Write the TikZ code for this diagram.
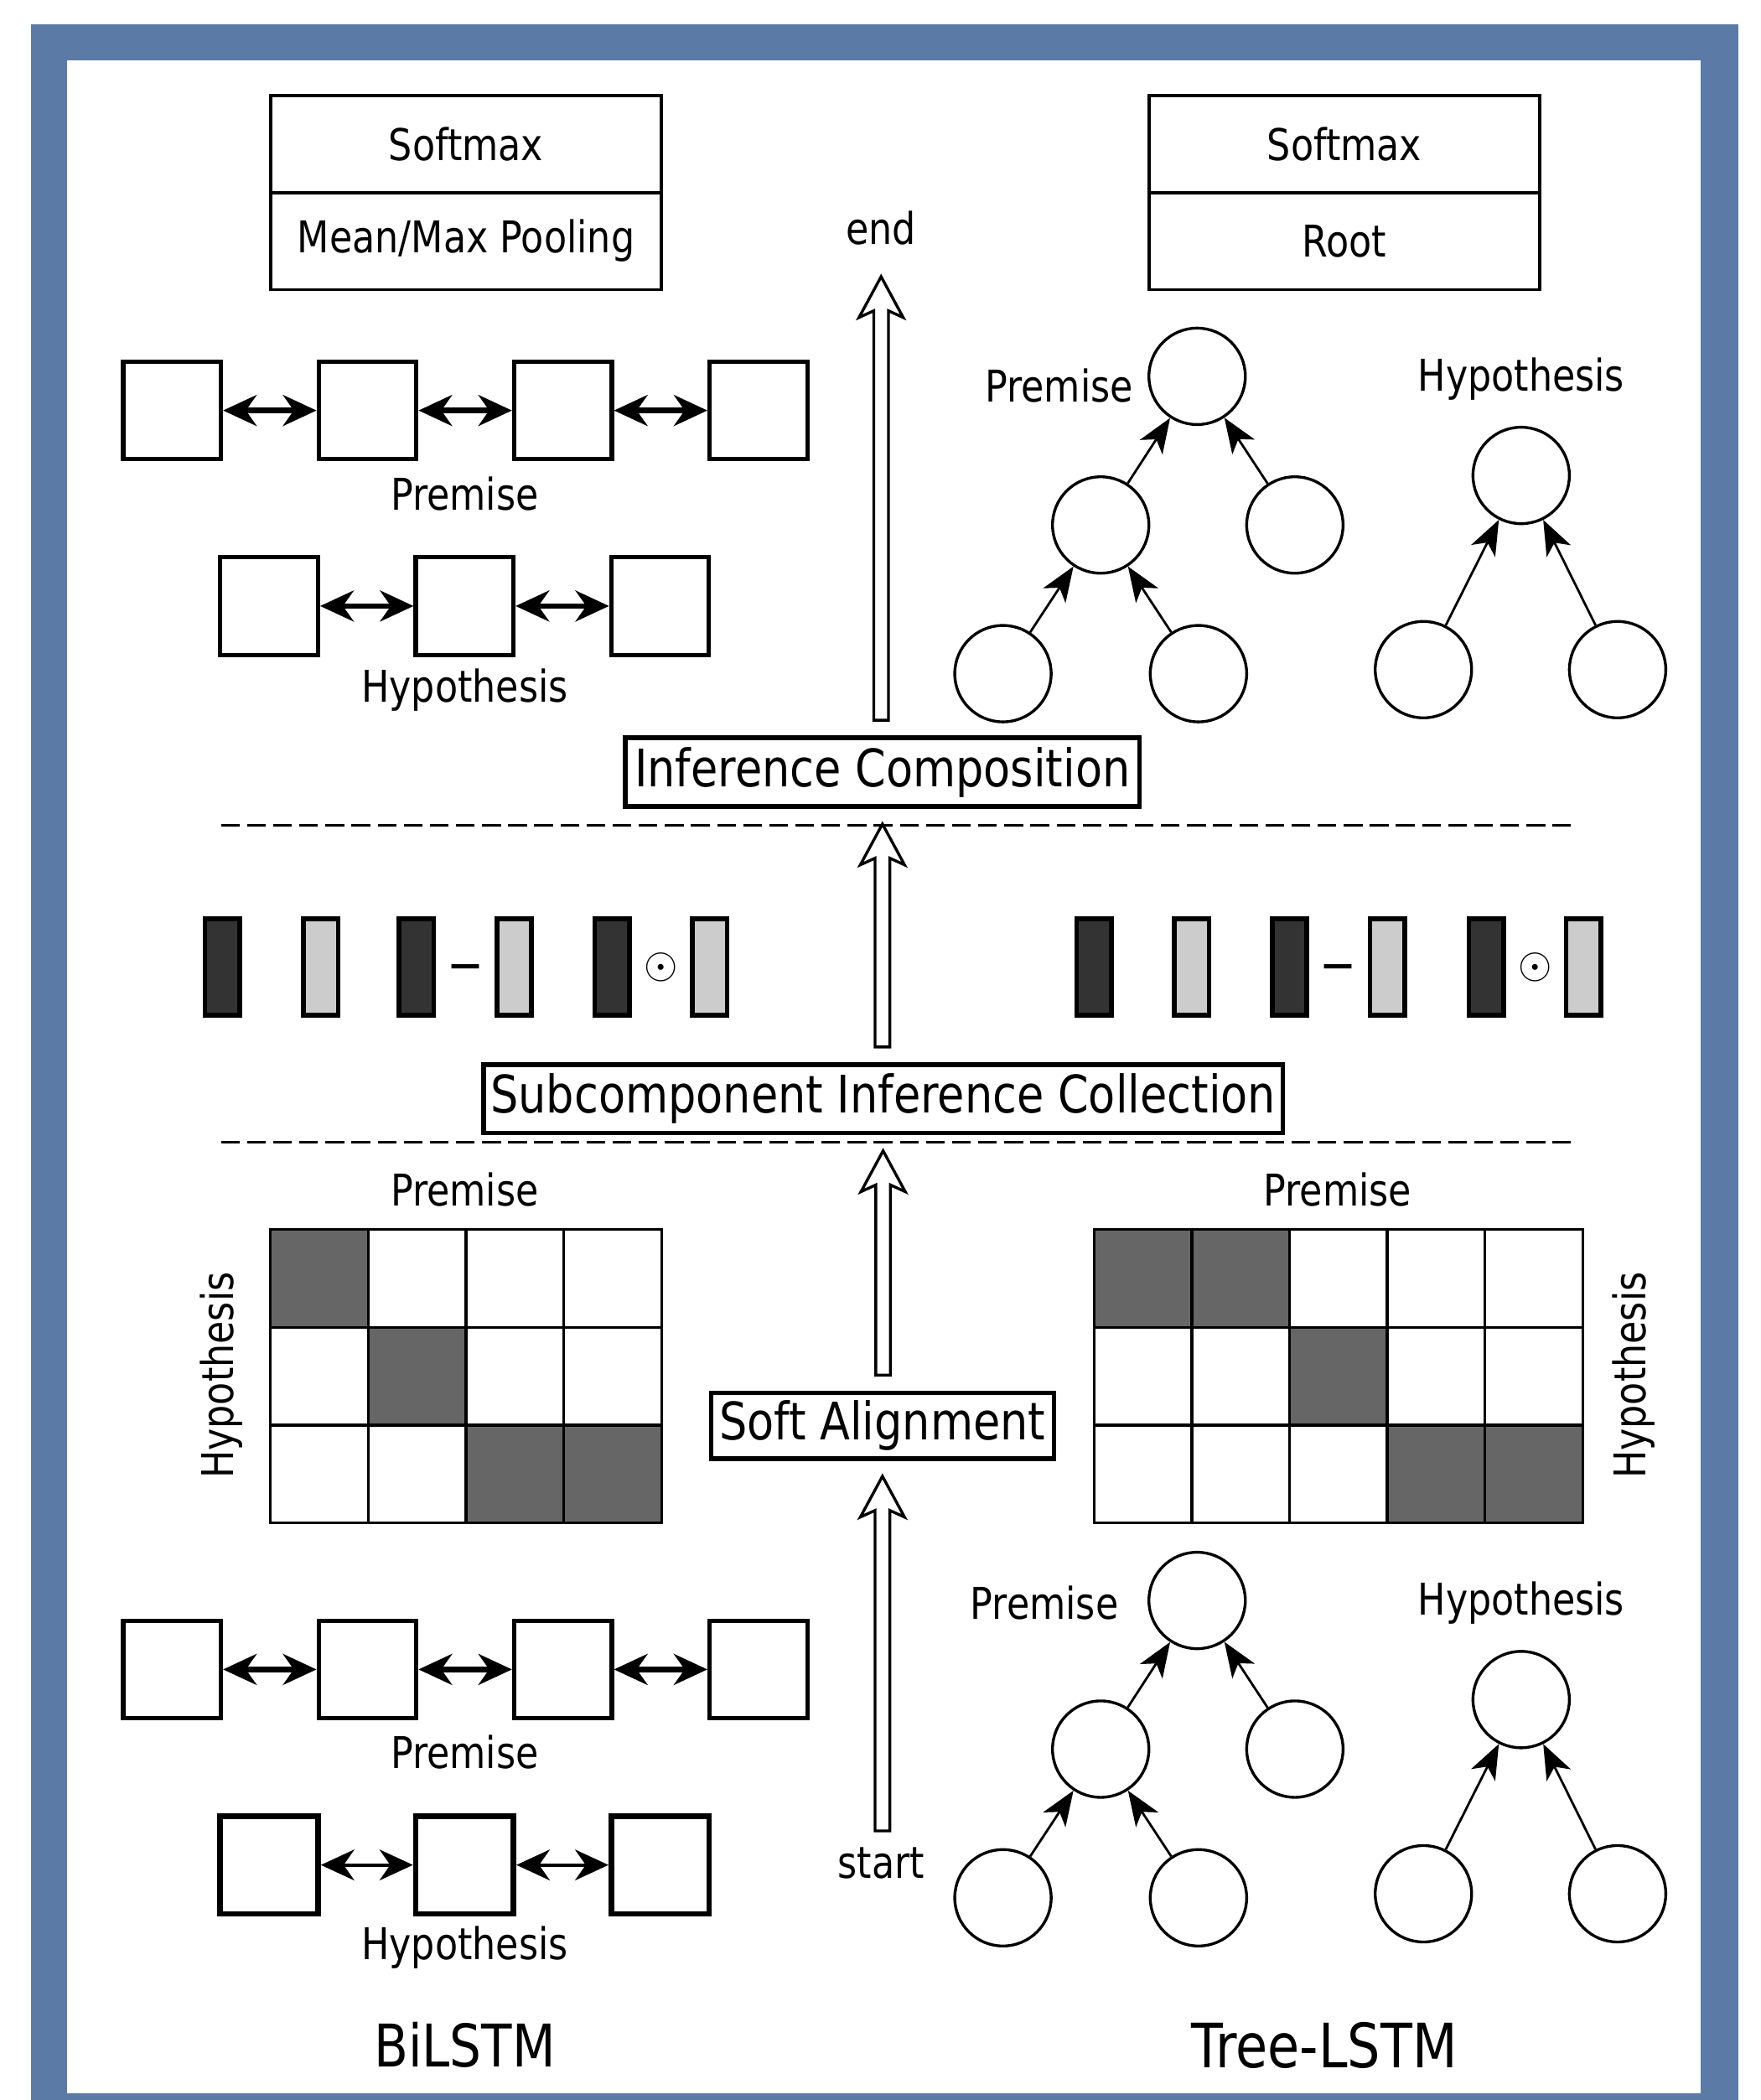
\documentclass[tikz,border=0pt]{standalone}
\usepackage{fontspec}
\setmainfont[FakeStretch=0.85]{DejaVu Sans}
\usetikzlibrary{arrows.meta,calc,positioning}

\definecolor{framecol}{RGB}{91,123,166}
\definecolor{darkbar}{HTML}{333333}
\definecolor{lightbar}{HTML}{CCCCCC}
\definecolor{cellgray}{HTML}{666666}

\tikzset{
    lbl/.style={font=\fontsize{9.3}{11}\selectfont},
    ttl/.style={draw,line width=1pt,font=\fontsize{11}{13}\selectfont,inner xsep=0.3mm,inner ysep=0.3mm,minimum height=5.1mm},
    headbox/.style={draw,line width=0.7pt,minimum width=2.92cm,minimum height=7.25mm,lbl},
    cell/.style={draw,line width=0.9pt,minimum size=7.3mm,inner sep=0},
    biarrow/.style={{Stealth[length=2.5mm,width=2.3mm,inset=0.8mm]}-{Stealth[length=2.5mm,width=2.3mm,inset=0.8mm]},line width=1.2pt},
    circ/.style={circle,draw,line width=0.6pt,minimum size=7.2mm,inner sep=0},
    treearrow/.style={-{Stealth[length=2.6mm,width=2mm,inset=0.7mm]},line width=0.5pt},
    bar/.style={draw,line width=1pt,minimum width=2.6mm,minimum height=7.2mm,inner sep=0},
    mcell/.style={draw,line width=0.6pt,minimum size=7.3mm,inner sep=0},
    fatline/.style={draw,fill=white,line width=0.6pt,line join=miter},
    sep/.style={line width=0.5pt,dash pattern=on 1.4mm off 0.55mm},
    opsign/.style={font=\fontsize{11}{13}\selectfont,yshift=-0.5mm}
}

% hollow upward arrow between two anchors
\newcommand{\fatarrow}[2]{%
    \draw[fatline] let \p1=(#1), \p2=(#2) in
        (\x2-0.55mm,\y1+1.15mm) -- (\x2-0.55mm,\y2-3.7mm) -- (\x2-1.65mm,\y2-4.2mm)
        -- (\x2,\y2-1.15mm) -- (\x2+1.65mm,\y2-4.2mm) -- (\x2+0.55mm,\y2-3.7mm)
        -- (\x2+0.55mm,\y1+1.15mm) -- cycle;}

\begin{document}
\begin{tikzpicture}[x=1cm,y=-1cm]
    \useasboundingbox (0,0) rectangle (13.15,15.68);
    \fill[framecol] (0.23,0.18) rectangle (12.98,15.68);
    \fill[white] (0.50,0.45) rectangle (12.70,15.63);

    % top classifiers
    \node[headbox] (softL) at (3.48,1.075) {Softmax};
    \node[headbox] (poolL) at (3.48,1.80) {Mean/Max Pooling};
    \node[headbox] (softR) at (10.04,1.075) {Softmax};
    \node[headbox] (rootR) at (10.04,1.80) {Root};

    % middle column
    \node[lbl] (endnode) at (6.58,1.70) {end};
    \node[ttl,minimum width=3.84cm] (infer) at (6.59,5.765) {Inference Composition};
    \node[ttl,minimum width=5.97cm] (subc) at (6.595,8.205) {Subcomponent Inference Collection};
    \node[ttl,minimum width=2.56cm,minimum height=4.9mm] (align) at (6.59,10.645) {Soft Alignment};
    \node[lbl,inner ysep=0pt] (startnode) at (6.58,13.91) {start};

    \draw[sep] (1.65,6.16) -- (11.73,6.16);
    \draw[sep] (1.65,8.53) -- (11.73,8.53);

    \fatarrow{infer.north}{endnode.south}
    \fatarrow{subc.north}{infer.south}
    \fatarrow{align.north}{subc.south}
    \fatarrow{startnode.north}{align.south}

    % BiLSTM, upper
    \node[cell] (pT1) at (1.285,3.065) {};
    \node[cell,right=6.98mm of pT1] (pT2) {};
    \node[cell,right=6.98mm of pT2] (pT3) {};
    \node[cell,right=6.98mm of pT3] (pT4) {};
    \draw[biarrow] (pT1) -- (pT2);
    \draw[biarrow] (pT2) -- (pT3);
    \draw[biarrow] (pT3) -- (pT4);
    \node[lbl] (pTlbl) at (3.47,3.69) {Premise};
    \node[cell] (hT1) at (2.01,4.525) {};
    \node[cell,right=6.98mm of hT1] (hT2) {};
    \node[cell,right=6.98mm of hT2] (hT3) {};
    \draw[biarrow] (hT1) -- (hT2);
    \draw[biarrow] (hT2) -- (hT3);
    \node[lbl] (hTlbl) at (3.47,5.15) {Hypothesis};

    % Tree-LSTM, upper
    \node[circ] (tpR) at (8.94,2.81) {};
    \node[circ] (tpM) at (8.22,3.92) {};
    \node[circ] (tpC) at (9.67,3.92) {};
    \node[circ] (tpA) at (7.49,5.03) {};
    \node[circ] (tpB) at (8.95,5.03) {};
    \draw[treearrow] (tpM) -- (tpR);
    \draw[treearrow] (tpC) -- (tpR);
    \draw[treearrow] (tpA) -- (tpM);
    \draw[treearrow] (tpB) -- (tpM);
    \node[lbl] (tpLbl) at (7.91,2.88) {Premise};
    \node[circ] (thR) at (11.36,3.55) {};
    \node[circ] (thA) at (10.63,5.00) {};
    \node[circ] (thB) at (12.08,5.00) {};
    \draw[treearrow] (thA) -- (thR);
    \draw[treearrow] (thB) -- (thR);
    \node[lbl] (thLbl) at (11.36,2.83) {Hypothesis};

    % local inference vectors
    \foreach \x/\n in {1.66/a,3.11/b,4.57/c,8.17/d,9.63/e,11.10/f}
        \node[bar,fill=darkbar] (dk\n) at (\x,7.22) {};
    \foreach \x/\n in {2.395/a,3.84/b,5.30/c,8.90/d,10.36/e,11.825/f}
        \node[bar,fill=lightbar] (lt\n) at (\x,7.22) {};
    \node[opsign] (minL) at ($(dkb)!0.5!(ltb)$) {−};
    \node[lbl] (dotL) at ($(dkc)!0.5!(ltc)$) {$\odot$};
    \node[opsign] (minR) at ($(dke)!0.5!(lte)$) {−};
    \node[lbl] (dotR) at ($(dkf)!0.5!(ltf)$) {$\odot$};

    % alignment matrices
    \foreach \r in {0,1,2}
        \foreach \c in {0,...,3}
            \node[mcell] (mL-\r-\c) at (2.385+0.73*\c,9.545+0.73*\r) {};
    \foreach \r/\c in {0/0,1/1,2/2,2/3}
        \node[mcell,fill=cellgray] at (mL-\r-\c) {};
    \foreach \r in {0,1,2}
        \foreach \c in {0,...,4}
            \node[mcell] (mR-\r-\c) at (8.535+0.73*\c,9.545+0.73*\r) {};
    \foreach \r/\c in {0/0,0/1,1/2,2/3,2/4}
        \node[mcell,fill=cellgray] at (mR-\r-\c) {};
    \node[lbl] (mLtop) at (3.47,8.88) {Premise};
    \node[lbl] (mRtop) at (9.99,8.88) {Premise};
    \node[lbl,rotate=90] (mLside) at (1.65,10.27) {Hypothesis};
    \node[lbl,rotate=90] (mRside) at (12.20,10.27) {Hypothesis};

    % BiLSTM, lower
    \node[cell] (pB1) at (1.285,12.465) {};
    \node[cell,right=6.98mm of pB1] (pB2) {};
    \node[cell,right=6.98mm of pB2] (pB3) {};
    \node[cell,right=6.98mm of pB3] (pB4) {};
    \draw[biarrow] (pB1) -- (pB2);
    \draw[biarrow] (pB2) -- (pB3);
    \draw[biarrow] (pB3) -- (pB4);
    \node[lbl] (pBlbl) at (3.47,13.08) {Premise};
    \node[cell,line width=1.2pt] (hB1) at (2.01,13.925) {};
    \node[cell,line width=1.2pt,right=6.88mm of hB1] (hB2) {};
    \node[cell,line width=1.2pt,right=6.88mm of hB2] (hB3) {};
    \draw[biarrow,line width=0.7pt] (hB1) -- (hB2);
    \draw[biarrow,line width=0.7pt] (hB2) -- (hB3);
    \node[lbl] (hBlbl) at (3.47,14.54) {Hypothesis};

    % Tree-LSTM, lower
    \node[circ] (bpR) at (8.94,11.95) {};
    \node[circ] (bpM) at (8.22,13.06) {};
    \node[circ] (bpC) at (9.67,13.06) {};
    \node[circ] (bpA) at (7.49,14.17) {};
    \node[circ] (bpB) at (8.95,14.17) {};
    \draw[treearrow] (bpM) -- (bpR);
    \draw[treearrow] (bpC) -- (bpR);
    \draw[treearrow] (bpA) -- (bpM);
    \draw[treearrow] (bpB) -- (bpM);
    \node[lbl] (bpLbl) at (7.80,11.97) {Premise};
    \node[circ] (bhR) at (11.36,12.69) {};
    \node[circ] (bhA) at (10.63,14.14) {};
    \node[circ] (bhB) at (12.08,14.14) {};
    \draw[treearrow] (bhA) -- (bhR);
    \draw[treearrow] (bhB) -- (bhR);
    \node[lbl] (bhLbl) at (11.36,11.97) {Hypothesis};

    % model names
    \node[font=\fontsize{12.5}{15}\selectfont] (bilstm) at (3.47,15.27) {BiLSTM};
    \node[font=\fontsize{13}{15}\selectfont] (treelstm) at (9.89,15.27) {Tree-LSTM};
\end{tikzpicture}
\end{document}
